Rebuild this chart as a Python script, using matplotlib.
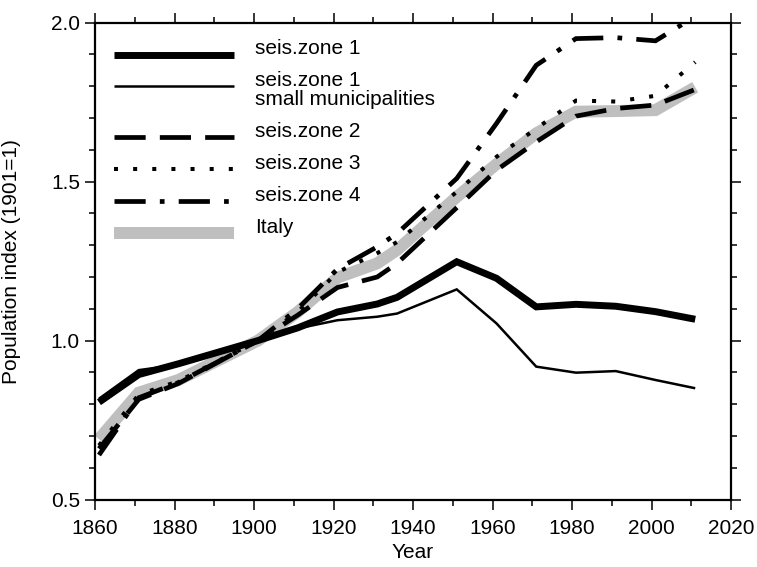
import numpy as np
import matplotlib
matplotlib.use("Agg")
import matplotlib.pyplot as plt
from matplotlib.ticker import MultipleLocator, FormatStrFormatter
from matplotlib.legend_handler import HandlerLine2D

# ---------------- data ----------------
years = [1861, 1871, 1881, 1901, 1911, 1921, 1931, 1936, 1951, 1961, 1971, 1981, 1991, 2001, 2011]
zone1 = [0.806, 0.893, 0.927, 1.0, 1.04, 1.09, 1.115, 1.136, 1.248, 1.196, 1.106, 1.114, 1.108, 1.091, 1.067]
zone1_small = [0.817, 0.907, 0.924, 1.0, 1.038, 1.064, 1.075, 1.085, 1.161, 1.054, 0.918, 0.899, 0.904, 0.876, 0.85]
zone2 = [0.66, 0.815, 0.865, 1.0, 1.08, 1.167, 1.20, 1.243, 1.418, 1.536, 1.625, 1.706, 1.73, 1.741, 1.79]
zone3 = [0.67, 0.83, 0.872, 1.0, 1.09, 1.215, 1.275, 1.31, 1.468, 1.578, 1.667, 1.755, 1.752, 1.77, 1.876]
zone4 = [0.64, 0.82, 0.868, 1.0, 1.10, 1.225, 1.295, 1.337, 1.51, 1.683, 1.866, 1.95, 1.953, 1.943, 2.02]
italy = [0.69, 0.836, 0.876, 1.0, 1.09, 1.198, 1.243, 1.285, 1.452, 1.555, 1.652, 1.72, 1.722, 1.725, 1.797]

labels = ["seis.zone 1", "seis.zone 1\nsmall municipalities", "seis.zone 2",
          "seis.zone 3", "seis.zone 4", "Italy"]

plt.rcParams['font.family'] = ['Liberation Sans', 'DejaVu Sans']
FS = 15

fig = plt.figure(figsize=(7.57, 5.67), dpi=100)
ax = fig.add_axes([95 / 757, 1 - 499.5 / 567, 636 / 757, 476.8 / 567])

common = dict(solid_capstyle='butt', dash_capstyle='butt', solid_joinstyle='miter', dash_joinstyle='miter')
l_it, = ax.plot(years, italy, color='#bfbfbf', lw=8.6, zorder=1, **common)
l_z2, = ax.plot(years, zone2, color='black', lw=3.4, linestyle=(0, (6.6, 3.0)), zorder=2, **common)
l_z3, = ax.plot(years, zone3, color='black', lw=2.9, linestyle=(0, (1.0, 3.75)), zorder=2, **common)
l_z4, = ax.plot(years, zone4, color='black', lw=3.4, linestyle=(0, (6.6, 3.0, 1.0, 3.0)), zorder=2, **common)
l_z1s, = ax.plot(years, zone1_small, color='black', lw=1.8, zorder=3, **common)
l_z1, = ax.plot(years, zone1, color='black', lw=5.0, zorder=3, **common)

ax.set_xlim(1860, 2020)
ax.set_ylim(0.5, 2.0)
ax.xaxis.set_major_locator(MultipleLocator(20))
ax.xaxis.set_minor_locator(MultipleLocator(10))
ax.yaxis.set_major_locator(MultipleLocator(0.5))
ax.yaxis.set_minor_locator(MultipleLocator(0.1))
ax.yaxis.set_major_formatter(FormatStrFormatter('%.1f'))

for s in ax.spines.values():
    s.set_linewidth(1.6)
ax.tick_params(which='both', direction='out', top=True, right=True, width=1.1)
ax.tick_params(which='major', length=7.2, labelsize=FS)
ax.tick_params(which='minor', length=4.3)
ax.tick_params(axis='x', which='major', pad=7.0)
ax.tick_params(axis='y', which='major', pad=3.6)

ax.set_xlabel("Year", fontsize=FS)
ax.set_ylabel("Population index (1901=1)", fontsize=FS)
ax.xaxis.set_label_coords(0.5, (499.5 - 543) / 476.8)
ax.yaxis.set_label_coords((21 - 95) / 636, 0.5)


class BaselineHandler(HandlerLine2D):
    def __init__(self, dy=0.0, **kw):
        super().__init__(**kw)
        self.dy = dy

    def create_artists(self, legend, orig_handle, xdescent, ydescent, width, height, fontsize, trans):
        arts = super().create_artists(legend, orig_handle, xdescent, ydescent, width, height, fontsize, trans)
        for a in arts:
            y = np.asarray(a.get_ydata(), dtype=float)
            a.set_ydata(np.full_like(y, self.dy * fontsize))
        return arts


handles = [l_z1, l_z1s, l_z2, l_z3, l_z4, l_it]
hmap = {h: BaselineHandler(0.0) for h in handles}
hmap[l_z1s] = BaselineHandler(0.56)
leg = ax.legend(handles, labels, loc='upper left',
                bbox_to_anchor=((114 - 95) / 636, (499.5 - 39.5) / 476.8),
                frameon=False, fontsize=FS, borderaxespad=0, borderpad=0,
                handlelength=120 / (FS * 100 / 72), handletextpad=21 / (FS * 100 / 72),
                labelspacing=0.62, handler_map=hmap)
leg.get_texts()[1].set_linespacing(0.97)

fig.savefig("out.png", dpi=100)
